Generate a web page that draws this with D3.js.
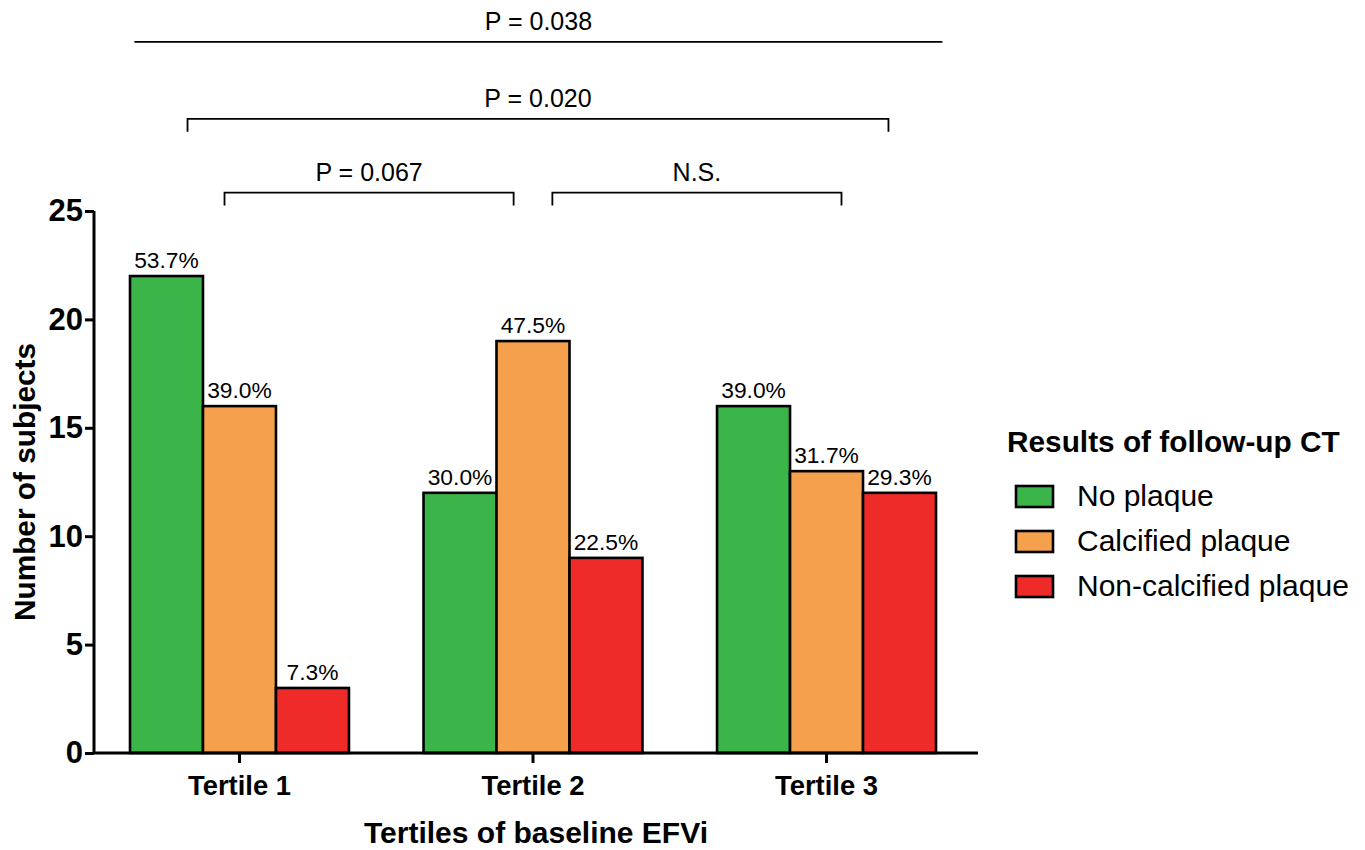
<!DOCTYPE html>
<html><head><meta charset="utf-8">
<script src="https://cdn.jsdelivr.net/npm/d3@7"></script>
<style>body{margin:0;background:#fff;} svg{display:block;font-family:"Liberation Sans",Arial,sans-serif;}</style>
</head><body>
<svg id="c" width="1365" height="850"></svg>
<script>
const categories = ["Tertile 1", "Tertile 2", "Tertile 3"];
const seriesNames = ["No plaque", "Calcified plaque", "Non-calcified plaque"];
const noPlaque = [22, 12, 16];
const calcified = [16, 19, 13];
const nonCalcified = [3, 9, 12];
const pctNoPlaque = ["53.7%", "30.0%", "39.0%"];
const pctCalcified = ["39.0%", "47.5%", "31.7%"];
const pctNonCalcified = ["7.3%", "22.5%", "29.3%"];
const yTicks = [0, 5, 10, 15, 20, 25];
const colors = ["#3BB54A", "#F4A04C", "#EE2B29"];
// brackets: group-index span, label, end ticks, level (in y units)
const brackets = [
  {from: -0.358, to: 2.395, label: "P = 0.038", ticks: false, level: 32.8},
  {from: -0.177, to: 2.211, label: "P = 0.020", ticks: true, level: 29.25},
  {from: -0.051, to: 0.934, label: "P = 0.067", ticks: true, level: 25.85},
  {from: 1.066, to: 2.051, label: "N.S.", ticks: true, level: 25.85}
];

const svg = d3.select("#c");
const series = [noPlaque, calcified, nonCalcified];
const pcts = [pctNoPlaque, pctCalcified, pctNonCalcified];
const FF = "Liberation Sans, Arial, sans-serif";

const axisLeft = 94, axisRight = 978;
const y = d3.scaleLinear().domain([0, 25]).range([753, 211]);
const x0 = d3.scaleBand().domain(categories).range([130, 936]).paddingInner(0.254).paddingOuter(0);
const x1 = d3.scaleBand().domain(seriesNames).range([0, x0.bandwidth()]).padding(0);
const xc = d3.scaleLinear().domain([0, 1]).range([x0(categories[0]) + x0.bandwidth()/2, x0(categories[1]) + x0.bandwidth()/2]);

// bars
categories.forEach((cat, i) => {
  const g = svg.append("g").attr("transform", `translate(${x0(cat)},0)`);
  seriesNames.forEach((s, j) => {
    const v = series[j][i];
    g.append("rect")
      .attr("x", x1(s)).attr("y", y(v))
      .attr("width", x1.bandwidth()).attr("height", y(0) - y(v))
      .attr("fill", colors[j]).attr("stroke", "#000").attr("stroke-width", 2.6);
    g.append("text")
      .attr("x", x1(s) + x1.bandwidth()/2).attr("y", y(v) - 8)
      .attr("text-anchor", "middle").attr("font-size", 22.8)
      .text(pcts[j][i]);
  });
});

// y axis
const ya = svg.append("g").attr("transform", `translate(${axisLeft},0)`)
  .call(d3.axisLeft(y).tickValues(yTicks).tickSize(9).tickPadding(2).tickFormat(d3.format("d")));
ya.select(".domain").attr("stroke-width", 3).attr("d", `M0,${y(25)}V${y(0)}`);
ya.selectAll(".tick line").attr("stroke-width", 3);
ya.selectAll(".tick text").attr("font-size", 31).attr("font-weight", "bold").attr("font-family", FF).attr("fill", "#000");

// x axis
const xa = svg.append("g").attr("transform", `translate(0,${y(0)})`)
  .call(d3.axisBottom(x0).tickSize(10).tickPadding(13));
xa.select(".domain").attr("stroke-width", 3).attr("d", `M${axisLeft},0H${axisRight}`);
xa.selectAll(".tick line").attr("stroke-width", 3);
xa.selectAll(".tick text").attr("font-size", 27.4).attr("font-weight", "bold").attr("font-family", FF).attr("fill", "#000");

// axis titles
svg.append("text").attr("x", 536).attr("y", 843).attr("text-anchor", "middle")
  .attr("font-size", 30).attr("font-weight", "bold").text("Tertiles of baseline EFVi");
svg.append("text").attr("transform", "translate(35,482) rotate(-90)").attr("text-anchor", "middle")
  .attr("font-size", 29.8).attr("font-weight", "bold").text("Number of subjects");

// brackets
brackets.forEach(b => {
  const xa_ = xc(b.from), xb_ = xc(b.to), yy = y(b.level);
  const path = b.ticks ? `M${xa_},${yy + 13}V${yy}H${xb_}V${yy + 13}` : `M${xa_},${yy}H${xb_}`;
  svg.append("path").attr("d", path).attr("fill", "none").attr("stroke", "#000").attr("stroke-width", 1.8);
  svg.append("text").attr("x", (xa_ + xb_)/2).attr("y", yy - 12).attr("text-anchor", "middle")
    .attr("font-size", 25).text(b.label);
});

// legend
const lg = svg.append("g");
lg.append("text").attr("x", 1007).attr("y", 452).attr("font-size", 29.8).attr("font-weight", "bold").text("Results of follow-up CT");
seriesNames.forEach((s, j) => {
  const cy = 496 + j * 45;
  lg.append("rect").attr("x", 1016).attr("y", cy - 10).attr("width", 37).attr("height", 21)
    .attr("fill", colors[j]).attr("stroke", "#000").attr("stroke-width", 2.6);
  lg.append("text").attr("x", 1077).attr("y", cy + 10).attr("font-size", 30).text(s);
});
</script>
</body></html>
